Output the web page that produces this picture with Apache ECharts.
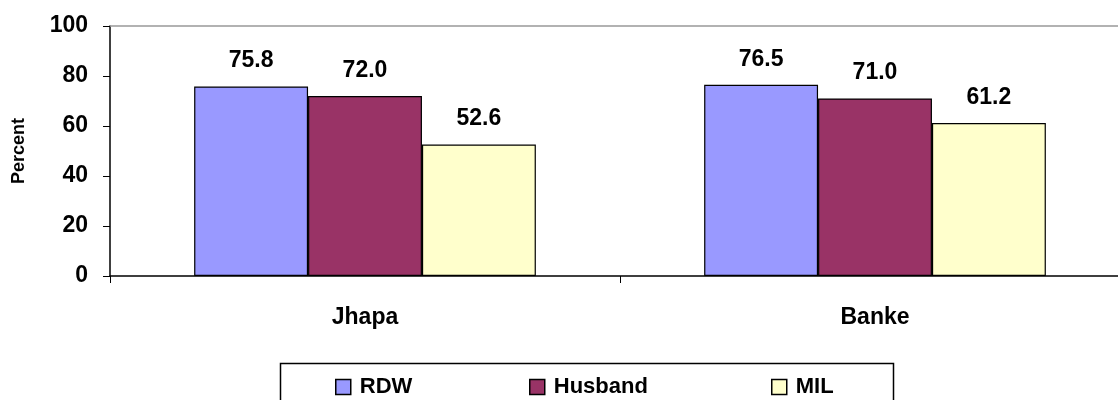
<!DOCTYPE html>
<html>
<head>
<meta charset="utf-8">
<script src="https://cdn.jsdelivr.net/npm/echarts@6/dist/echarts.min.js"></script>
<style>html,body{margin:0;padding:0;background:#fff}#c{width:1118px;height:400px}</style>
</head>
<body>
<div id="c"></div>
<script>
const categories = ['Jhapa', 'Banke'];
const seriesNames = ['RDW', 'Husband', 'MIL'];
const rdw = [75.8, 76.5];
const husband = [72.0, 71.0];
const mil = [52.6, 61.2];
const colors = ['#9999FF', '#993366', '#FFFFCC'];
const yTicks = [0, 20, 40, 60, 80, 100];

const font = 'Liberation Sans, Arial, sans-serif';
const chart = echarts.init(document.getElementById('c'), null, {renderer: 'canvas'});
const values = [rdw, husband, mil];
const series = seriesNames.map((n, i) => ({
  name: n,
  type: 'bar',
  data: values[i],
  barGap: '0%',
  barCategoryGap: '33%',
  itemStyle: {color: colors[i], borderColor: '#000', borderWidth: 1.2},
  label: {
    show: true, position: 'top', distance: 14,
    formatter: p => p.value.toFixed(1),
    fontFamily: font, fontWeight: 'bold', fontSize: 23, color: '#000'
  }
}));
const legendPos = [{left: 335, name: 'RDW'}, {left: 529, name: 'Husband'}, {left: 771, name: 'MIL'}];
chart.setOption({
  animation: false,
  grid: {left: 110, top: 26, width: 1020, height: 250, outerBoundsMode: 'none', containLabel: false},
  xAxis: [{
    type: 'category', data: categories, position: 'bottom',
    axisLine: {lineStyle: {color: '#000', width: 1.5}},
    axisTick: {show: true, alignWithLabel: false, length: 7, lineStyle: {color: '#000'}},
    axisLabel: {margin: 30, fontFamily: font, fontWeight: 'bold', fontSize: 23, color: '#000'}
  }, {
    type: 'category', data: categories, position: 'top',
    axisLine: {lineStyle: {color: '#999', width: 1.5}},
    axisTick: {show: false}, axisLabel: {show: false}
  }],
  yAxis: {
    type: 'value', min: 0, max: 100, interval: 20,
    name: 'Percent', nameLocation: 'middle', nameGap: 82,
    nameTextStyle: {fontFamily: font, fontWeight: 'bold', fontSize: 18, color: '#000'},
    axisLine: {show: true, lineStyle: {color: '#000', width: 1.5}},
    axisTick: {show: true, length: 7, lineStyle: {color: '#000'}},
    splitLine: {show: false},
    axisLabel: {margin: 22, fontFamily: font, fontWeight: 'bold', fontSize: 23, color: '#000',
      formatter: v => yTicks.includes(v) ? String(v) : ''}
  },
  legend: legendPos.map(l => ({
    data: [l.name], left: l.left, top: 376, padding: 0, itemWidth: 15, itemHeight: 15, itemGap: 6,
    icon: 'rect', selectedMode: false,
    itemStyle: {borderColor: '#000', borderWidth: 1.5},
    textStyle: {fontFamily: font, fontWeight: 'bold', fontSize: 22, color: '#000', padding: [0, 0, 0, 4]}
  })),
  graphic: [{
    type: 'rect', left: 278, top: 361, shape: {width: 613, height: 50},
    style: {fill: 'none', stroke: '#000', lineWidth: 1.5}, silent: true
  }],
  series: series
});
</script>
</body>
</html>
